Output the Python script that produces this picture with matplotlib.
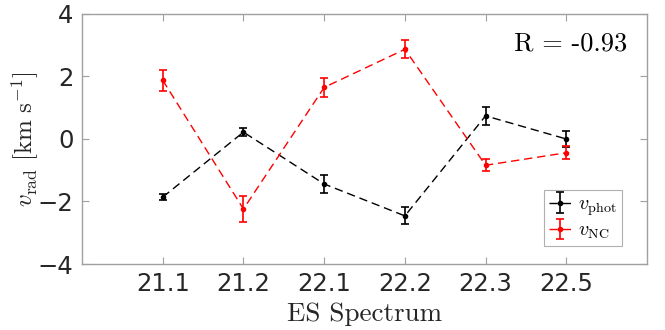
import matplotlib
matplotlib.use("Agg")
import matplotlib.pyplot as plt
import numpy as np

plt.rcParams['mathtext.fontset'] = 'cm'
plt.rcParams['font.family'] = ['DejaVu Sans']

spectra = ["21.1", "21.2", "22.1", "22.2", "22.3", "22.5"]
v_phot = [-1.86, 0.22, -1.44, -2.46, 0.74, 0.0]
v_phot_err = [0.10, 0.12, 0.29, 0.27, 0.28, 0.27]
v_nc = [1.88, -2.24, 1.65, 2.87, -0.84, -0.44]
v_nc_err = [0.33, 0.43, 0.31, 0.29, 0.20, 0.20]
r_value = -0.93

x = np.arange(1, len(spectra) + 1)

fig = plt.figure(figsize=(6.65, 3.30), dpi=100)
ax = fig.add_axes([0.1233, 0.2, 0.8497, 0.7576])

for vals, errs, col, lab in [(v_phot, v_phot_err, 'black', r'$v_\mathrm{phot}$'),
                             (v_nc, v_nc_err, 'red', r'$v_\mathrm{NC}$')]:
    cont = ax.errorbar(x, vals, yerr=errs, fmt='o', ls='--', color=col,
                       ms=3, lw=1, elinewidth=1.2, capsize=3, capthick=1.2,
                       label=lab)
    cont.lines[0].set_dashes((6, 3.5))

ax.set_xlim(0, len(spectra) + 1)
ax.set_ylim(-4, 4)
ax.set_xticks(x)
ax.set_xticklabels(spectra)
ax.set_yticks([-4, -2, 0, 2, 4])
ax.set_yticklabels(['\u22124', '\u22122', '0', '2', '4'])

axis_gray = '#a0a0a0'
for s in ax.spines.values():
    s.set_color(axis_gray)
    s.set_linewidth(1.0)
ax.tick_params(direction='in', length=5, width=0.8, color=axis_gray,
               top=True, right=True, labelsize=17.5, labelcolor='#262626',
               pad=6)

ax.set_xlabel('ES Spectrum', fontfamily='cmr10', fontsize=19.5,
              color='#262626')
ax.xaxis.set_label_coords(0.5, -0.155)
ax.set_ylabel(r'$v_\mathrm{rad}\ [\mathrm{km\ s^{-1}}]$', fontsize=18,
              color='#262626')
ax.yaxis.set_label_coords(-0.072, 0.5)

ax.text(0.965, 0.88, 'R = %.2f' % r_value, fontfamily='cmr10',
        transform=ax.transAxes, ha='right', va='center', fontsize=19,
        color='black')

leg = ax.legend(loc='lower right', bbox_to_anchor=(0.955, 0.07),
                fontsize=14.5, fancybox=False, framealpha=1,
                edgecolor='#b0b0b0', handlelength=1.1, handletextpad=0.3,
                borderpad=0.25, labelspacing=0.15, borderaxespad=0)
leg.get_frame().set_linewidth(0.8)

fig.savefig('out.png', dpi=100)
